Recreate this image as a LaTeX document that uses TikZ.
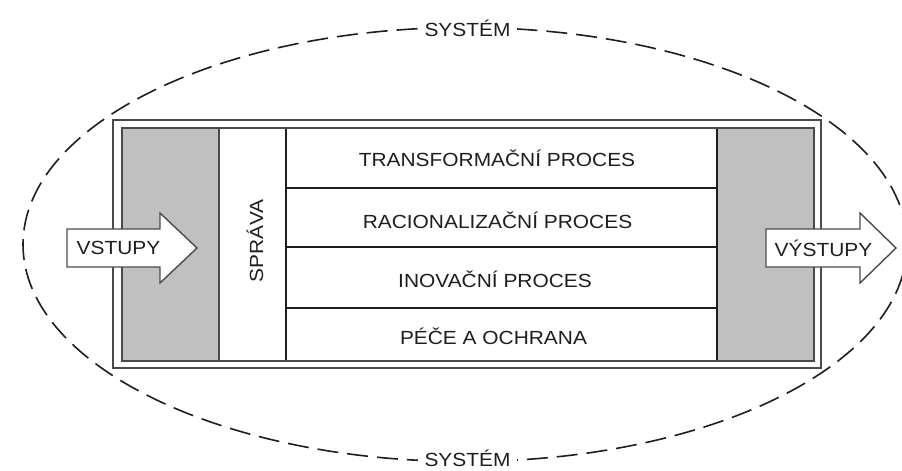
\documentclass[tikz,border=0pt]{standalone}
\usepackage{fontspec}
\setmainfont{Liberation Sans}[FakeStretch=1.1]
\definecolor{inkgray}{HTML}{1E1E1E}
\definecolor{framegray}{HTML}{4A4A4A}
\definecolor{fillgray}{HTML}{C0C0C0}
\begin{document}
\begin{tikzpicture}[x=1pt,y=-1pt,
  txt/.style={font=\fontsize{19}{21}\selectfont, text=inkgray, inner sep=0pt},
  sysline/.style={draw=inkgray, line width=1.6pt, dash pattern=on 21pt off 9pt},
  syslabel/.style={txt, fill=white, inner xsep=7pt, inner ysep=1pt, anchor=base},
  frame/.style={draw=framegray, line width=1.4pt},
  cell/.style={frame, rectangle, inner sep=0pt, minimum height=233pt},
  graycell/.style={cell, fill=fillgray, minimum width=97pt},
  rowcell/.style={frame, draw=inkgray, rectangle, inner sep=0pt, minimum width=431pt},
  flow/.style={draw=framegray, line width=1.4pt, fill=white, line join=miter}
]
\useasboundingbox (0,0) rectangle (902,471);
\fill[white] (0,0) rectangle (902,471);

% system boundary
\draw[sysline] (465,244.5) ellipse [x radius=442, y radius=217];
\node[syslabel] (systop) at (467.5,36) {SYSTÉM};
\node[syslabel] (sysbot) at (467.5,466) {SYSTÉM};

% double frame of the organisation
\draw[frame, fill=white] (113,120) rectangle (821,368);
\draw[frame] (122,128) rectangle (814,361);

% columns
\node[graycell] (incol) at (170.5,244.5) {};
\node[cell, minimum width=67pt] (mgmt) at (252.5,244.5) {};
\node[graycell] (outcol) at (765.5,244.5) {};
\node[txt, rotate=90] (spr) at (255,241) {SPRÁVA};

% process rows
\node[rowcell, minimum height=60pt] (r1) at (501.5,158) {};
\node[rowcell, minimum height=59pt] (r2) at (501.5,217.5) {};
\node[rowcell, minimum height=61pt] (r3) at (501.5,277.5) {};
\node[rowcell, minimum height=53pt] (r4) at (501.5,334.5) {};
\node[txt] (t1) at (497,158.5) {TRANSFORMAČNÍ PROCES};
\node[txt] (t2) at (497.5,220) {RACIONALIZAČNÍ PROCES};
\node[txt] (t3) at (495,279) {INOVAČNÍ PROCES};
\node[txt] (t4) at (493.5,336) {PÉČE A OCHRANA};

% redraw the inner frame on top of the cells
\draw[frame] (122,128) rectangle (814,361);

% input and output arrows
\draw[flow] (67,229) -- (160,229) -- (160,213) -- (197,248) -- (160,283)
  -- (160,267) -- (67,267) -- cycle;
\node[txt] (vin) at (118.5,248) {VSTUPY};
\draw[flow] (766,229) -- (860,229) -- (860,213) -- (896,248) -- (860,283)
  -- (860,267) -- (766,267) -- cycle;
\node[txt] (vout) at (823.5,248) {VÝSTUPY};
\end{tikzpicture}
\end{document}
